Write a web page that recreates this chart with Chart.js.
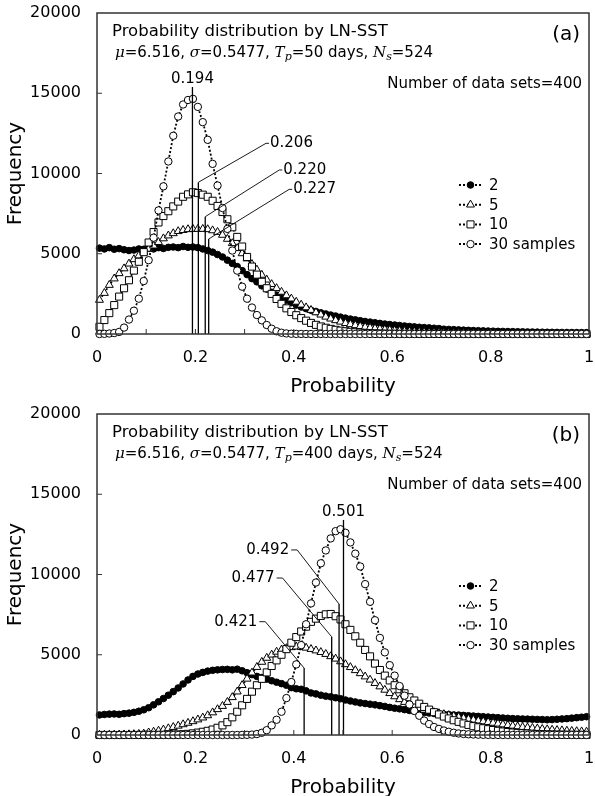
<!DOCTYPE html>
<html>
<head>
<meta charset="utf-8">
<script src="https://cdn.jsdelivr.net/npm/chart.js@4.4.1/dist/chart.umd.min.js"></script>
<style>
  html, body { margin: 0; padding: 0; background: #fff; }
  #wrap { position: relative; width: 595px; height: 796px; }
  canvas { position: absolute; left: 0; }
</style>
</head>
<body>
<div id="wrap">
  <canvas id="chartA" width="595" height="398" style="top:0"></canvas>
  <canvas id="chartB" width="595" height="398" style="top:398px"></canvas>
</div>
<script>
// bin centres on the probability axis (bin width 0.01)
const binCenters = Array.from({ length: 100 }, (_, i) => Math.round((0.005 + i * 0.01) * 1000) / 1000);
const sampleSizes = ["2", "5", "10", "30 samples"];

// panel (a): Tp = 50 days
const freqA2 = [
  5350, 5300, 5380, 5280, 5320, 5250, 5200, 5230, 5300, 5280,
  5350, 5300, 5380, 5330, 5400, 5420, 5380, 5450, 5400, 5420,
  5380, 5300, 5200, 5100, 4950, 4800, 4600, 4400, 4200, 3950,
  3700, 3450, 3250, 3000, 2800, 2600, 2420, 2250, 2100, 1950,
  1800, 1680, 1580, 1480, 1400, 1320, 1250, 1180, 1120, 1050,
  990, 930, 880, 830, 780, 740, 700, 660, 620, 590,
  560, 530, 500, 470, 445, 420, 400, 380, 360, 340,
  300, 285, 270, 255, 240, 228, 216, 205, 195, 185,
  176, 168, 160, 153, 146, 140, 134, 128, 123, 118,
  113, 109, 105, 101, 98, 95, 92, 89, 86, 84
];
const freqA5 = [
  2120, 2550, 3050, 3450, 3780, 4080, 4380, 4650, 4880, 5100,
  5300, 5500, 5720, 5950, 6130, 6270, 6400, 6470, 6520, 6540,
  6540, 6540, 6520, 6450, 6350, 6170, 5920, 5650, 5340, 5020,
  4700, 4350, 4000, 3680, 3380, 3100, 2850, 2620, 2400, 2200,
  2000, 1820, 1650, 1490, 1340, 1200, 1070, 950, 850, 760,
  670, 600, 540, 480, 430, 385, 345, 310, 275, 245,
  218, 195, 175, 157, 141, 127, 114, 103, 93, 84,
  76, 69, 63, 57, 52, 47, 43, 39, 36, 33,
  30, 28, 26, 24, 22, 20, 19, 17, 16, 15,
  14, 13, 12, 11, 10, 9, 9, 8, 8, 7
];
const freqA10 = [
  450, 870, 1300, 1800, 2330, 2850, 3350, 3950, 4500, 5100,
  5700, 6350, 6950, 7350, 7650, 7950, 8250, 8550, 8700, 8830,
  8780, 8680, 8550, 8300, 7980, 7600, 7150, 6650, 6050, 5450,
  4800, 4200, 3700, 3250, 2850, 2500, 2180, 1880, 1600, 1370,
  1170, 990, 830, 690, 570, 470, 390, 320, 260, 210,
  170, 135, 108, 86, 68, 54, 43, 34, 27, 21,
  17, 13, 10, 8, 6, 5, 4, 3, 2, 2,
  1, 1, 1, 1, 0, 0, 0, 0, 0, 0,
  0, 0, 0, 0, 0, 0, 0, 0, 0, 0,
  0, 0, 0, 0, 0, 0, 0, 0, 0, 0
];
const freqA30 = [
  0, 10, 30, 60, 130, 400, 900, 1450, 2200, 3300,
  4600, 6000, 7700, 9200, 10750, 12350, 13550, 14300, 14580, 14650,
  14150, 13200, 12100, 10600, 9250, 7850, 6550, 5200, 3950, 2950,
  2200, 1650, 1180, 850, 560, 330, 170, 80, 35, 15,
  6, 3, 1, 0, 0, 0, 0, 0, 0, 0,
  0, 0, 0, 0, 0, 0, 0, 0, 0, 0,
  0, 0, 0, 0, 0, 0, 0, 0, 0, 0,
  0, 0, 0, 0, 0, 0, 0, 0, 0, 0,
  0, 0, 0, 0, 0, 0, 0, 0, 0, 0,
  0, 0, 0, 0, 0, 0, 0, 0, 0, 0
];
const meanA = [0.194, 0.206, 0.220, 0.227];

// panel (b): Tp = 400 days
const freqB2 = [
  1250, 1280, 1300, 1310, 1290, 1330, 1360, 1410, 1480, 1570,
  1700, 1880, 2070, 2270, 2480, 2700, 2930, 3180, 3430, 3650,
  3800, 3900, 3980, 4030, 4060, 4080, 4090, 4060, 4100, 4000,
  3880, 3760, 3650, 3580, 3480, 3380, 3290, 3200, 3100, 2950,
  2880, 2850, 2750, 2620, 2560, 2480, 2420, 2380, 2320, 2260,
  2180, 2120, 2060, 2000, 1960, 1920, 1880, 1830, 1780, 1720,
  1670, 1630, 1580, 1530, 1480, 1440, 1400, 1370, 1340, 1310,
  1290, 1270, 1250, 1240, 1220, 1200, 1180, 1160, 1140, 1120,
  1100, 1080, 1060, 1040, 1020, 1010, 1000, 990, 980, 970,
  960, 950, 960, 980, 1000, 1020, 1050, 1080, 1110, 1140
];
const freqB5 = [
  10, 12, 15, 18, 22, 28, 35, 45, 60, 80,
  150, 200, 260, 330, 410, 490, 570, 660, 750, 850,
  960, 1080, 1220, 1400, 1600, 1800, 2050, 2350, 2700, 3100,
  3500, 3880, 4230, 4550, 4800, 5000, 5180, 5310, 5400, 5460,
  5500, 5480, 5430, 5350, 5260, 5160, 5040, 4900, 4750, 4580,
  4400, 4220, 4030, 3840, 3640, 3440, 3230, 3020, 2810, 2600,
  2400, 2220, 2050, 1900, 1770, 1660, 1560, 1480, 1410, 1350,
  1290, 1230, 1170, 1110, 1050, 990, 940, 890, 840, 800,
  750, 700, 650, 610, 570, 530, 490, 460, 430, 400,
  370, 345, 320, 300, 280, 260, 245, 230, 215, 200
];
const freqB10 = [
  0, 0, 0, 0, 0, 0, 1, 1, 2, 3,
  4, 6, 9, 13, 18, 26, 36, 50, 70, 100,
  150, 200, 260, 340, 450, 600, 800, 1100, 1450, 1850,
  2250, 2700, 3100, 3500, 3900, 4300, 4650, 5000, 5350, 5750,
  6100, 6450, 6750, 7050, 7250, 7420, 7520, 7540, 7400, 7200,
  6900, 6550, 6150, 5750, 5300, 4900, 4450, 4050, 3700, 3400,
  3100, 2850, 2600, 2350, 2150, 1950, 1750, 1580, 1420, 1280,
  1150, 1030, 920, 820, 720, 630, 550, 480, 420, 360,
  310, 260, 220, 185, 155, 130, 110, 92, 78, 65,
  55, 46, 38, 32, 27, 22, 18, 15, 12, 10
];
const freqB30 = [
  0, 0, 0, 0, 0, 0, 0, 0, 0, 0,
  0, 0, 0, 0, 0, 0, 0, 0, 0, 0,
  0, 0, 0, 0, 0, 0, 0, 0, 0, 5,
  10, 25, 60, 140, 300, 600, 950, 1450, 2300, 3300,
  4400, 5600, 6900, 8200, 9500, 10700, 11500, 12250, 12700, 12820,
  12600, 12000, 11300, 10500, 9400, 8300, 7150, 6050, 5150, 4350,
  3700, 3050, 2450, 1900, 1500, 1200, 900, 680, 500, 380,
  280, 200, 140, 95, 65, 45, 30, 20, 12, 8,
  5, 3, 2, 1, 1, 0, 0, 0, 0, 0,
  0, 0, 0, 0, 0, 0, 0, 0, 0, 0
];
const meanB = [0.501, 0.492, 0.477, 0.421];

const FONT = '"DejaVu Sans", Verdana, sans-serif';
const SERIF = '"DejaVu Serif", "Liberation Serif", serif';

// marker styles for 2, 5, 10, 30 samples
const markers = [
  { style: "circle", radius: 3.3, fill: "#000" },
  { style: "triangle", radius: 4.6, fill: "#fff" },
  { style: "rect", radius: 5, fill: "#fff" },
  { style: "circle", radius: 3.7, fill: "#fff" },
];

// where the mean lines end and their labels sit (data units)
const annA = [
  { side: "above", top: 15390, ly: 15890 },
  { side: "right", top: 9450, lx: 0.3435, ly: 11880 },
  { side: "right", top: 7310, lx: 0.3705, ly: 10220 },
  { side: "right", top: 5920, lx: 0.3905, ly: 9010 },
];
const annB = [
  { side: "above", top: 13400, ly: 13910 },
  { side: "left", top: 8160, lx: 0.4069, ly: 11530 },
  { side: "left", top: 6120, lx: 0.3771, ly: 9780 },
  { side: "left", top: 4170, lx: 0.3421, ly: 7060 },
];

const panels = {
  chartA: { tag: "(a)", days: 50, series: [freqA2, freqA5, freqA10, freqA30], marks: meanA, ann: annA, padTop: 13, xAxisHeight: 64 },
  chartB: { tag: "(b)", days: 400, series: [freqB2, freqB5, freqB10, freqB30], marks: meanB, ann: annB, padTop: 16, xAxisHeight: 61 },
};

function drawMarker(ctx, m, x, y) {
  ctx.beginPath();
  if (m.style === "circle") {
    ctx.arc(x, y, m.radius, 0, Math.PI * 2);
  } else if (m.style === "rect") {
    const s = m.radius * Math.SQRT1_2;
    ctx.rect(x - s, y - s, 2 * s, 2 * s);
  } else {
    const r = m.radius;
    ctx.moveTo(x, y - r);
    ctx.lineTo(x + r * Math.sin(Math.PI * 2 / 3), y + r / 2);
    ctx.lineTo(x - r * Math.sin(Math.PI * 2 / 3), y + r / 2);
    ctx.closePath();
  }
  ctx.fillStyle = m.fill;
  ctx.fill();
  ctx.strokeStyle = "#000";
  ctx.lineWidth = 1;
  ctx.stroke();
}

// formula line with italic math letters
function drawFormula(ctx, x, y, days) {
  const parts = [
    ["\u03bc", "m"], ["=6.516, ", "s"], ["\u03c3", "m"], ["=0.5477, ", "s"],
    ["T", "m"], ["p", "sub"], ["=" + days + " days, ", "s"],
    ["N", "m"], ["s", "sub"], ["=524", "s"],
  ];
  const fonts = { s: "15px " + FONT, m: "italic 15px " + SERIF, sub: "italic 11px " + SERIF };
  ctx.textAlign = "left";
  ctx.textBaseline = "alphabetic";
  parts.forEach(([t, k]) => {
    ctx.font = fonts[k];
    ctx.fillText(t, x, k === "sub" ? y + 3 : y);
    x += ctx.measureText(t).width;
  });
}

const decorPlugin = {
  id: "decor",
  afterDatasetsDraw(chart) {
    const p = panels[chart.canvas.id];
    const { ctx, scales: { x, y } } = chart;
    ctx.save();
    ctx.fillStyle = "#000";
    ctx.font = "15px " + FONT;
    ctx.textBaseline = "middle";
    p.marks.forEach((m, k) => {
      const an = p.ann[k];
      const px = x.getPixelForValue(m);
      const y0 = y.getPixelForValue(0);
      const yt = y.getPixelForValue(an.top);
      ctx.strokeStyle = "#000";
      ctx.lineWidth = 1.3;
      ctx.beginPath();
      ctx.moveTo(px, y0);
      ctx.lineTo(px, yt);
      ctx.stroke();
      const label = m.toFixed(3);
      if (an.side === "above") {
        ctx.textAlign = "center";
        ctx.fillText(label, px, y.getPixelForValue(an.ly));
        return;
      }
      const lx = x.getPixelForValue(an.lx);
      const ly = y.getPixelForValue(an.ly);
      const d = an.side === "right" ? 3 : -6;
      ctx.lineWidth = 0.9;
      ctx.beginPath();
      ctx.moveTo(px, yt);
      ctx.lineTo(lx, ly);
      ctx.lineTo(lx + d, ly);
      ctx.stroke();
      if (an.side === "right") {
        ctx.textAlign = "left";
        ctx.fillText(label, lx + d + 1, ly);
      } else {
        ctx.textAlign = "right";
        ctx.fillText(label, lx + d - 2, ly);
      }
    });
    ctx.restore();
  },
  afterDraw(chart) {
    const p = panels[chart.canvas.id];
    const { ctx, chartArea: a, scales: { x, y } } = chart;
    ctx.save();
    // frame
    ctx.strokeStyle = "#333";
    ctx.lineWidth = 1.5;
    ctx.strokeRect(a.left, a.top, a.right - a.left, a.bottom - a.top);
    // inward tick marks
    ctx.lineWidth = 1;
    ctx.beginPath();
    for (let v = 5000; v < 20000; v += 5000) {
      const py = y.getPixelForValue(v);
      ctx.moveTo(a.left, py);
      ctx.lineTo(a.left + 5, py);
    }
    for (let i = 1; i < 10; i++) {
      const px = x.getPixelForValue(i / 10);
      ctx.moveTo(px, a.bottom);
      ctx.lineTo(px, a.bottom - 5);
    }
    ctx.stroke();

    ctx.fillStyle = "#000";
    // axis titles
    ctx.font = "20px " + FONT;
    ctx.textAlign = "center";
    ctx.textBaseline = "alphabetic";
    ctx.fillText("Probability", (a.left + a.right) / 2, a.bottom + 57.5);
    ctx.save();
    ctx.translate(21, (a.top + a.bottom) / 2);
    ctx.rotate(-Math.PI / 2);
    ctx.fillText("Frequency", 0, 0);
    ctx.restore();

    // panel texts
    ctx.textAlign = "left";
    ctx.font = "16.5px " + FONT;
    ctx.fillText("Probability distribution by LN-SST", 112, a.top + 22.7);
    drawFormula(ctx, 115, a.top + 43.5, p.days);
    ctx.font = "15px " + FONT;
    ctx.textAlign = "right";
    ctx.fillText("Number of data sets=400", 582, a.top + 75);
    ctx.font = "20px " + FONT;
    ctx.textBaseline = "middle";
    ctx.fillText(p.tag, 580, a.top + 22);

    // legend
    ctx.font = "15px " + FONT;
    ctx.textAlign = "left";
    sampleSizes.forEach((name, k) => {
      const ly = a.top + 172 + k * 19.7;
      ctx.strokeStyle = "#000";
      ctx.lineWidth = 2;
      ctx.setLineDash([2, 2]);
      ctx.beginPath();
      ctx.moveTo(459, ly);
      ctx.lineTo(482, ly);
      ctx.stroke();
      ctx.setLineDash([]);
      drawMarker(ctx, markers[k], 470.5, ly);
      ctx.fillStyle = "#000";
      ctx.fillText(name, 489, ly + 1);
    });
    ctx.restore();
  },
};

function makeChart(id) {
  const p = panels[id];
  const datasets = p.series.map((vals, k) => ({
    label: sampleSizes[k],
    data: binCenters.map((bx, i) => ({ x: bx, y: vals[i] })),
    showLine: true,
    borderColor: "#000",
    borderWidth: 1.8,
    borderDash: [2, 2],
    pointStyle: markers[k].style,
    pointRadius: markers[k].radius,
    pointBackgroundColor: markers[k].fill,
    pointBorderColor: "#000",
    pointBorderWidth: 1,
    tension: 0,
    fill: false,
    clip: false,
    order: 4 - k,
  }));
  return new Chart(document.getElementById(id), {
    type: "line",
    data: { datasets },
    options: {
      responsive: false,
      animation: false,
      devicePixelRatio: 1,
      layout: { padding: { top: p.padTop, right: 4, left: 0, bottom: 0 } },
      plugins: { legend: { display: false }, tooltip: { enabled: false } },
      scales: {
        x: {
          type: "linear",
          min: 0,
          max: 1,
          grid: { display: false, drawTicks: false },
          border: { display: false },
          ticks: {
            stepSize: 0.2, padding: 14, maxRotation: 0, color: "#000",
            font: { family: FONT, size: 16 },
            callback: (v) => String(Math.round(v * 10) / 10),
          },
          afterFit(s) { s.height = p.xAxisHeight; s.paddingLeft = 0; s.paddingRight = 0; },
        },
        y: {
          min: 0,
          max: 20000,
          grid: { display: false, drawTicks: false },
          border: { display: false },
          ticks: { stepSize: 5000, padding: 16, color: "#000", font: { family: FONT, size: 16 }, callback: (v) => String(v) },
          afterFit(s) { s.width = 97; s.paddingTop = 0; s.paddingBottom = 0; },
        },
      },
    },
    plugins: [decorPlugin],
  });
}

makeChart("chartA");
makeChart("chartB");
</script>
</body>
</html>
